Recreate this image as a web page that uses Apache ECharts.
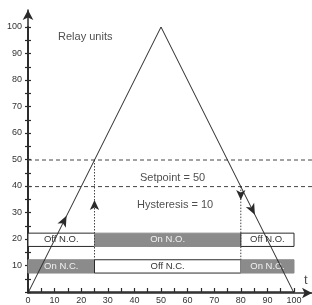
<!DOCTYPE html>
<html>
<head>
<meta charset="utf-8">
<script src="https://cdn.jsdelivr.net/npm/echarts@6/dist/echarts.min.js"></script>
<style>
  html, body { margin: 0; padding: 0; background: #fff; }
  #chart { width: 312px; height: 305px; }
</style>
</head>
<body>
<div id="chart"></div>
<script>
// relay input ramps up then down
const relayWave = [[0, 0], [50, 100], [100, 0]]
const setpoint = 50
const hysteresis = 10
// x where the relay changes state
const switchPoints = [0, 25, 80, 100]
const noStates = ['Off N.O.', 'On N.O.', 'Off N.O.']
const ncStates = ['On N.C.', 'Off N.C.', 'On N.C.']
const bandLevels = [20, 10]
const tickStep = 5
const labelStep = 10

const font = 'Liberation Sans, Arial, sans-serif'
const ink = '#2a2a2a'
const gray = '#8b8b8b'
// outer grid spans past 100 so axes can carry arrows
const xOuterMax = 284 / 2.66
const yOuterMax = 283 / 2.66

const bands = []
bandLevels.forEach((level, row) => {
  const states = row === 0 ? noStates : ncStates
  states.forEach((name, i) => {
    bands.push({ name, value: [switchPoints[i], switchPoints[i + 1], level, name.startsWith('On') ? 1 : 0] })
  })
})

const chart = echarts.init(document.getElementById('chart'))

const tickAxis = (extra) => Object.assign({
  type: 'value',
  min: 0,
  max: 100,
  interval: tickStep,
  gridIndex: 0,
  splitLine: { show: false },
  axisLine: { show: true, lineStyle: { color: ink, width: 1.5 } },
  axisTick: { show: true, inside: true, length: 3, lineStyle: { color: ink, width: 1.2 } },
  axisLabel: { show: false }
}, extra)

chart.setOption({
  animation: false,
  grid: [
    { left: 28, right: 18, top: 27, bottom: 12 },
    { left: 28, right: 0, top: 10, bottom: 12 }
  ],
  xAxis: [
    tickAxis({
      axisTick: { show: true, inside: true, length: 4, lineStyle: { color: ink, width: 1.2 } },
      axisLabel: {
        show: true,
        margin: 4,
        color: '#333',
        fontSize: 9,
        fontFamily: font,
        formatter: v => (v % labelStep === 0 ? String(v) : '')
      }
    }),
    {
      type: 'value', gridIndex: 1, min: 0, max: xOuterMax,
      splitLine: { show: false }, axisTick: { show: false }, axisLabel: { show: false },
      axisLine: { show: true, symbol: ['none', 'arrow'], symbolSize: [8, 10], lineStyle: { color: ink, width: 1.5 } }
    }
  ],
  yAxis: [
    tickAxis({
      axisTick: { show: true, inside: false, length: 3, lineStyle: { color: ink, width: 1.2 } },
      axisLabel: {
        show: true,
        margin: 6,
        color: '#333',
        fontSize: 9,
        fontFamily: font,
        formatter: v => (v % labelStep === 0 && v > 0 ? String(v) : '')
      }
    }),
    tickAxis({ position: 'left' }),
    {
      type: 'value', gridIndex: 1, min: 0, max: yOuterMax,
      splitLine: { show: false }, axisTick: { show: false }, axisLabel: { show: false },
      axisLine: { show: true, symbol: ['none', 'arrow'], symbolSize: [8, 10], lineStyle: { color: ink, width: 1.5 } }
    }
  ],
  series: [
    // setpoint and lower threshold
    {
      type: 'line', xAxisIndex: 1, yAxisIndex: 2, symbol: 'none', silent: true,
      data: [[0, setpoint], [xOuterMax, setpoint]],
      lineStyle: { color: '#444', width: 1, type: [4, 3] }
    },
    {
      type: 'line', xAxisIndex: 1, yAxisIndex: 2, symbol: 'none', silent: true,
      data: [[0, setpoint - hysteresis], [xOuterMax, setpoint - hysteresis]],
      lineStyle: { color: '#444', width: 1, type: [4, 3] }
    },
    // switching drop lines
    {
      type: 'line', xAxisIndex: 1, yAxisIndex: 2, symbol: 'none', silent: true,
      data: [[switchPoints[1], setpoint], [switchPoints[1], bandLevels[1] + 2.5]],
      lineStyle: { color: '#444', width: 1, type: [1.5, 1.5] },
      markPoint: {
        symbol: 'arrow', symbolSize: [7, 10], label: { show: false },
        itemStyle: { color: ink },
        data: [{ coord: [switchPoints[1], 35], symbolRotate: 0 }]
      }
    },
    {
      type: 'line', xAxisIndex: 1, yAxisIndex: 2, symbol: 'none', silent: true,
      data: [[switchPoints[2], setpoint - hysteresis], [switchPoints[2], bandLevels[1] + 2.5]],
      lineStyle: { color: '#444', width: 1, type: [1.5, 1.5] },
      markPoint: {
        symbol: 'arrow', symbolSize: [7, 10], label: { show: false },
        itemStyle: { color: ink },
        data: [{ coord: [switchPoints[2], 35], symbolRotate: 180 }]
      }
    },
    // relay state bars
    {
      type: 'custom', xAxisIndex: 1, yAxisIndex: 2, silent: true,
      data: bands,
      renderItem (params, api) {
        const on = api.value(3) === 1
        const p0 = api.coord([api.value(0), api.value(2) + 2.5])
        const p1 = api.coord([api.value(1), api.value(2) - 2.5])
        return {
          type: 'rect',
          shape: { x: p0[0], y: p0[1], width: p1[0] - p0[0], height: p1[1] - p0[1] },
          style: { fill: on ? gray : '#fff', stroke: on ? gray : ink, lineWidth: 1 },
          textContent: {
            type: 'text',
            style: {
              text: bands[params.dataIndex].name,
              fill: on ? '#f2f2f2' : '#333',
              fontSize: 9.5,
              fontFamily: font
            }
          },
          textConfig: { position: 'inside' }
        }
      }
    },
    // input signal
    {
      type: 'line', xAxisIndex: 1, yAxisIndex: 2, symbol: 'none', silent: true,
      data: relayWave,
      lineStyle: { color: ink, width: 1 },
      markPoint: {
        symbol: 'arrow', symbolSize: [7, 11], label: { show: false },
        itemStyle: { color: ink },
        data: [
          { coord: [14.5, 29], symbolRotate: -26.6 },
          { coord: [85.3, 29.4], symbolRotate: -153.4 }
        ]
      }
    },
    // annotations
    {
      type: 'scatter', xAxisIndex: 1, yAxisIndex: 2, symbolSize: 0, silent: true,
      label: { show: true, position: 'right', distance: 0, formatter: p => p.name, color: '#222', fontSize: 11, fontFamily: font },
      data: [
        { name: 'Relay units', value: [11.3, 96.2] },
        { name: 'Setpoint = ' + setpoint, value: [42.1, 43.2] },
        { name: 'Hysteresis = ' + hysteresis, value: [41, 33.1] },
        { name: 't', value: [103.8, 4.8], label: { fontSize: 13 } }
      ]
    }
  ]
})
</script>
</body>
</html>
